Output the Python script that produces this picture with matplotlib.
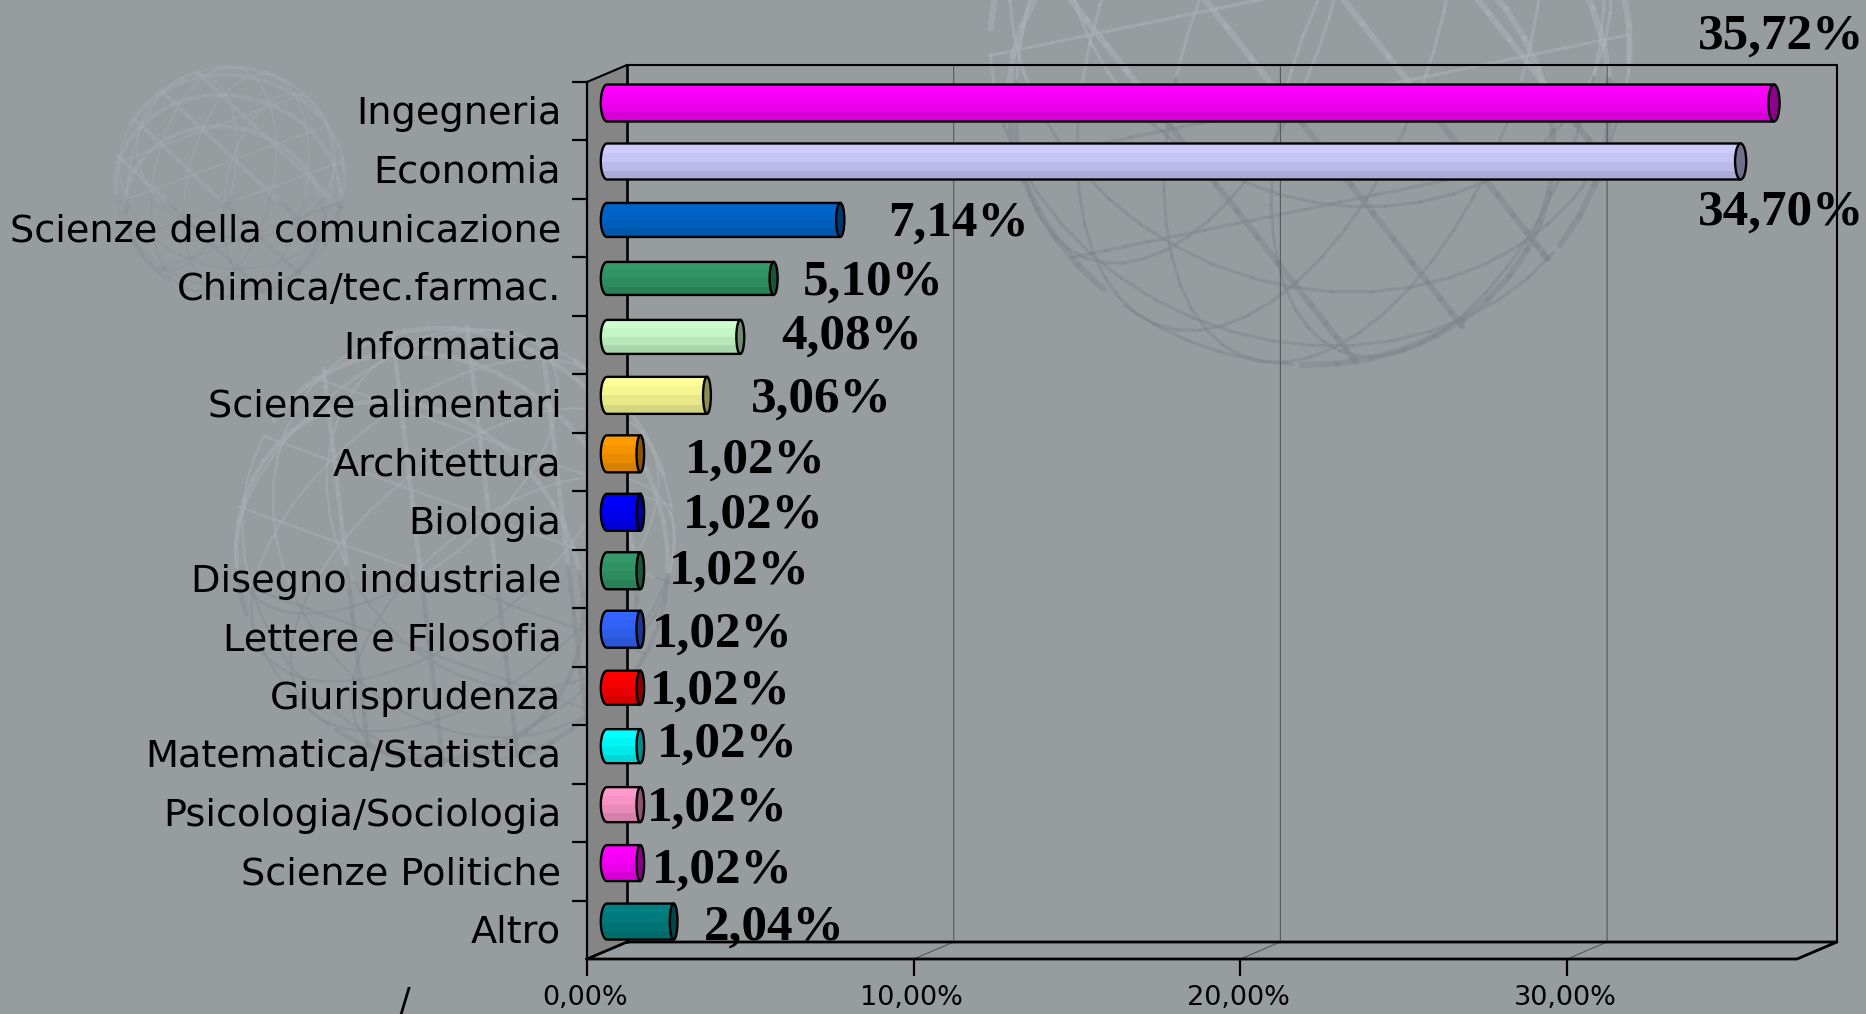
# recreate the 3D cylinder bar chart (percentages per faculty)
import matplotlib
matplotlib.use("Agg")
import matplotlib.pyplot as plt
import numpy as np
from matplotlib.collections import LineCollection
from matplotlib.colors import to_rgb
from matplotlib.patches import Ellipse, PathPatch, Polygon
from matplotlib.path import Path
from matplotlib.transforms import Affine2D

W, H = 1866, 1014
BG = "#979c9f"

categories = [
    "Ingegneria", "Economia", "Scienze della comunicazione", "Chimica/tec.farmac.",
    "Informatica", "Scienze alimentari", "Architettura", "Biologia",
    "Disegno industriale", "Lettere e Filosofia", "Giurisprudenza",
    "Matematica/Statistica", "Psicologia/Sociologia", "Scienze Politiche", "Altro",
]
values = [35.72, 34.70, 7.14, 5.10, 4.08, 3.06, 1.02, 1.02, 1.02, 1.02, 1.02, 1.02, 1.02, 1.02, 2.04]
value_labels = ["35,72%", "34,70%", "7,14%", "5,10%", "4,08%", "3,06%", "1,02%", "1,02%",
                "1,02%", "1,02%", "1,02%", "1,02%", "1,02%", "1,02%", "2,04%"]
bar_colors = ["#ff00ff", "#ccccff", "#0066cc", "#339966", "#ccffcc", "#ffff99", "#ff9900", "#0000ff",
              "#339966", "#3366ff", "#ff0000", "#00ffff", "#ff99cc", "#ff00ff", "#008080"]
x_ticks = [0, 10, 20, 30]
x_tick_labels = ["0,00%", "10,00%", "20,00%", "30,00%"]

# hand placed data labels in the original: left edge / middle, in image pixels
label_left = [1698, 1698, 888, 803, 781, 751, 685, 683, 669, 652, 650, 657, 647, 652, 704]
label_mid = [37, 213, 224, 283, 337, 400, 461, 516, 572, 635, 692, 745, 809, 871, 928]
# the bars are not all equally thick in the original (pixels)
bar_thickness = [37, 36, 34, 33, 34, 37, 37, 37, 37, 37, 34, 34, 35, 36, 36]

# front plane of the chart, image pixels
FX0, FX1, FY0, FY1 = 587, 1797, 82, 959
DX, DY = 40, 17  # depth of the box
BAR_DX, BAR_DY = 20, 8.2  # bars stand halfway in the box
PX_PER_PCT = 32.67
X_MAX = (FX1 - FX0) / PX_PER_PCT
ROW_PX = (FY1 - FY0) / len(categories)


def shade(color, f):
    return tuple(c * f for c in to_rgb(color))


def circles_around(axis, cos_angles, n=48):
    """Small circles around a unit axis on the unit sphere."""
    axis = np.asarray(axis, dtype=float)
    axis = axis / np.linalg.norm(axis)
    u = np.cross(axis, [0.3, 0.5, 0.8])
    u = u / np.linalg.norm(u)
    v = np.cross(axis, u)
    t = np.linspace(0, 2 * np.pi, n + 1)
    out = []
    for c in cos_angles:
        s = np.sqrt(1 - c * c)
        out.append(c * axis + s * (np.outer(np.cos(t), u) + np.outer(np.sin(t), v)))
    return out


def draw_globe(bg, cx, cy, r, spin, light, dark, lw, alpha=0.6):
    """Decorative geodesic globe behind the chart: circles around the icosahedron axes."""
    g = (1 + 5 ** 0.5) / 2
    axes = [(0, 1, g), (0, -1, g), (1, g, 0), (-1, g, 0), (g, 0, 1), (-g, 0, 1)]
    rot = np.array([[np.cos(spin), -np.sin(spin), 0], [np.sin(spin), np.cos(spin), 0], [0, 0, 1]])
    segs, cols, widths = [], [], []
    for k, axis in enumerate(axes):
        for c in circles_around(axis, [-0.5, -0.17, 0.17, 0.5]):
            p = c @ rot.T
            for a, b in zip(p[:-1], p[1:]):
                if (a[2] + b[2]) / 2 < 0:
                    continue
                mid_y = (a[1] + b[1]) / 2
                col = light if mid_y < 0.15 else dark
                segs.append([(cx + r * a[0], cy + r * a[1]), (cx + r * b[0], cy + r * b[1])])
                cols.append(col + (alpha,))
                widths.append(lw * (1.4 if k % 3 == 0 else 0.7))
    bg.add_collection(LineCollection(segs, colors=cols, linewidths=widths, capstyle="round", zorder=1))


def draw_box(bg):
    """Walls, floor and gridlines of the fake 3D box, in image pixels."""
    bg.add_patch(Polygon([(FX0, FY0), (FX0 + DX, FY0 - DY), (FX0 + DX, FY1 - DY), (FX0, FY1)],
                         facecolor="#858585", edgecolor="none", zorder=2))
    for t in x_ticks[1:]:
        x = FX0 + t * PX_PER_PCT
        bg.plot([x, x + DX, x + DX], [FY1, FY1 - DY, FY0 - DY], color="#55595b", lw=0.8, zorder=3)
    bg.plot([FX0, FX0 + DX, FX1 + DX, FX1 + DX], [FY0, FY0 - DY, FY0 - DY, FY1 - DY], color="black", lw=1.5, zorder=4)
    bg.plot([FX0 + DX, FX0 + DX], [FY0 - DY, FY1 - DY], color="black", lw=1.9, zorder=4)
    bg.plot([FX0, FX0 + DX, FX1 + DX, FX1, FX0], [FY1, FY1 - DY, FY1 - DY, FY1, FY1], color="black", lw=2.0, zorder=4)
    bg.plot([FX0, FX0], [FY0, FY1], color="black", lw=1.6, zorder=4)


def draw_cylinder(ax, row, value, color, tf, height):
    left_cap = 0.19  # half widths of the end ellipses, in percent units
    right_cap = 0.115 + 0.0016 * value
    half = height / 2
    t = np.linspace(np.pi / 2, 3 * np.pi / 2, 30)
    left = np.c_[left_cap * np.cos(t), row + half * np.sin(t)]
    verts = np.r_[[(value, row + half)], left, [(value, row - half)], [(value, row + half)]]
    body = PathPatch(Path(verts), facecolor=shade(color, 0.9), edgecolor="none", transform=tf, zorder=5)
    ax.add_patch(body)
    # lighter on top, darker towards the bottom, in flat bands like the original
    factors = [1.0, 0.96, 0.91, 0.84]
    band = height / len(factors)
    for k, f in enumerate(factors):
        y = row - half + band * (k + 0.5)
        bars = ax.barh(y, value + left_cap, left=-left_cap, height=band, color=shade(color, f), transform=tf, zorder=6)
        bars[0].set_clip_path(body)
    ax.add_patch(PathPatch(Path(verts), facecolor="none", edgecolor="black", linewidth=1.7, transform=tf, zorder=7))
    ax.add_patch(Ellipse((value, row), right_cap * 2, height, facecolor=shade(color, 0.55), edgecolor="black",
                         linewidth=1.7, transform=tf, zorder=8))


fig = plt.figure(figsize=(W / 100, H / 100), dpi=100, facecolor=BG)

bg = fig.add_axes([0, 0, 1, 1])
bg.set_xlim(0, W)
bg.set_ylim(H, 0)
bg.axis("off")
draw_globe(bg, 1310, 45, 320, 0.35, (0.68, 0.70, 0.72), (0.51, 0.53, 0.55), 3.2, alpha=0.5)
draw_globe(bg, 455, 545, 220, 0.9, (0.67, 0.69, 0.71), (0.53, 0.55, 0.57), 2.4, alpha=0.45)
draw_globe(bg, 230, 182, 115, 0.2, (0.66, 0.68, 0.70), (0.55, 0.57, 0.59), 2.2, alpha=0.3)
draw_box(bg)

ax = fig.add_axes([FX0 / W, 1 - FY1 / H, (FX1 - FX0) / W, (FY1 - FY0) / H])
ax.patch.set_alpha(0)
for s in ["top", "right", "left", "bottom"]:
    ax.spines[s].set_visible(False)

ax.set_xticks(x_ticks)
ax.set_xticklabels(x_tick_labels, fontsize=19.5, fontfamily="DejaVu Sans")
ax.tick_params(axis="x", length=12.5, width=1.6, pad=6)
ax.set_yticks(range(len(categories)))
ax.set_yticklabels(categories, fontsize=27.5, fontfamily="DejaVu Sans")
ax.tick_params(axis="y", which="major", length=0, pad=18.5)
ax.set_yticks(np.arange(-0.5, len(categories) - 1), minor=True)
ax.tick_params(axis="y", which="minor", length=11, width=1.6)

bar_tf = ax.transData + Affine2D().translate(BAR_DX, BAR_DY)
for i, (v, c, th) in enumerate(zip(values, bar_colors, bar_thickness)):
    draw_cylinder(ax, i, v, c, bar_tf, th / ROW_PX)
ax.set_xlim(0, X_MAX)
ax.set_ylim(len(categories) - 0.5, -0.5)

for lbl in ax.get_yticklabels():
    lbl.set_transform(lbl.get_transform() + Affine2D().translate(0, 1))
for lbl in ax.get_xticklabels():
    lbl.set_transform(lbl.get_transform() + Affine2D().translate(-2, 0))

for txt, lx, my in zip(value_labels, label_left, label_mid):
    fig.text(lx / W, 1 - my / H, txt, fontsize=36.8, fontweight="bold", family="Liberation Serif",
             ha="left", va="center", color="black", zorder=20)

# stray slash cut off by the bottom edge in the original
fig.text(405 / W, 1 - 1003 / H, "/", fontsize=25, family="DejaVu Sans", ha="center", va="center")

fig.savefig("out.png", dpi=100, facecolor=BG)
